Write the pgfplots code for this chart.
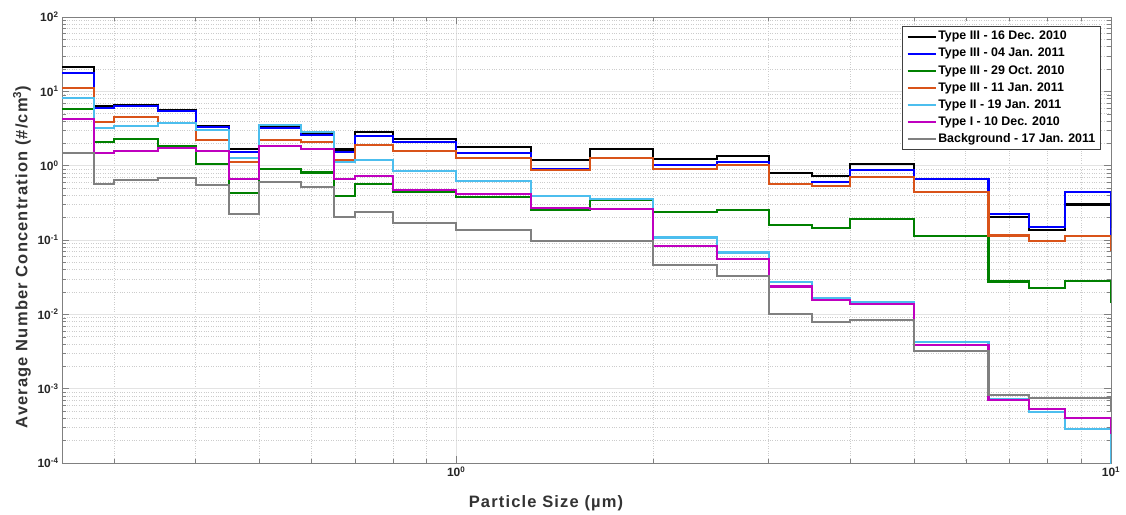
\documentclass[border=0pt]{standalone}
\usepackage{fontspec}
\setmainfont{Liberation Sans}
\newfontfamily\labelfont[LetterSpace=7]{Liberation Sans}
\usepackage{pgfplots}
\pgfplotsset{compat=1.18}
\usetikzlibrary{calc}

\definecolor{cBlack}{rgb}{0,0,0}
\definecolor{cBlue}{rgb}{0,0,1}
\definecolor{cGreen}{rgb}{0,0.5,0}
\definecolor{cOrange}{rgb}{0.85,0.325,0.098}
\definecolor{cCyan}{rgb}{0.30,0.745,0.933}
\definecolor{cMag}{rgb}{0.75,0,0.75}
\definecolor{cGray}{rgb}{0.5,0.5,0.5}
\definecolor{axgray}{rgb}{0.5,0.5,0.5}

\pgfplotsset{stair/.style={const plot, line width=2.1pt, mark=none, draw=#1, color=#1}}

\begin{document}
\begin{tikzpicture}
\begin{axis}[
  name=ax,
  scale only axis,
  width=1049pt, height=446pt,
  xmode=log, ymode=log,
  xmin=0.25, xmax=10, ymin=1e-4, ymax=1e2,
  xtick={1,10},
  xticklabels={10\textsuperscript{0},10\textsuperscript{1}},
  minor xtick={0.3,0.4,0.5,0.6,0.7,0.8,0.9,2,3,4,5,6,7,8,9},
  ytick={1e-4,1e-3,1e-2,1e-1,1,10,100},
  yticklabels={10\textsuperscript{-4},10\textsuperscript{-3},10\textsuperscript{-2},10\textsuperscript{-1},10\textsuperscript{0},10\textsuperscript{1},10\textsuperscript{2}},
  minor ytick={2e-4,3e-4,4e-4,5e-4,6e-4,7e-4,8e-4,9e-4,
    2e-3,3e-3,4e-3,5e-3,6e-3,7e-3,8e-3,9e-3,
    2e-2,3e-2,4e-2,5e-2,6e-2,7e-2,8e-2,9e-2,
    0.2,0.3,0.4,0.5,0.6,0.7,0.8,0.9,
    2,3,4,5,6,7,8,9,20,30,40,50,60,70,80,90},
  tick label style={font=\bfseries\fontsize{12}{13}\selectfont, color=black!85},
  grid=both,
  major grid style={solid, gray!22},
  minor grid style={dotted, gray!40, line width=0.5pt},
  tick align=inside,
  major tick length=7pt, minor tick length=4.5pt,
  axis line style={axgray, line width=0.8pt},
  every tick/.style={axgray},
  xlabel={Particle Size (µm)},
  ylabel={Average Number Concentration (\#/cm\textsuperscript{3})},
  label style={font=\labelfont\bfseries\fontsize{16.5}{20}\selectfont, color=black!80},
  xlabel style={at={(axis description cs:0.4614,-0.0897)}, anchor=center},
  ylabel style={at={(axis description cs:-0.0381,0.462)}, anchor=center},
  legend style={at={(axis description cs:1,1)}, xshift=-10pt, yshift=-9pt,
    anchor=north east, draw=black!75, fill=white, line width=0.6pt,
    font=\bfseries\fontsize{12.4}{14}\selectfont,
    nodes={inner sep=1.5pt, text height=9pt, text depth=2.5pt},
    row sep=2.6pt, inner xsep=4pt, inner ysep=3pt},
  legend cell align=left,
  legend image code/.code={\draw[#1] (0pt,0pt) -- (28pt,0pt);},
]
% bin edges: 0.25 .28 .30 .35 .40 .45 .50 .58 .65 .70 .80 1.0 1.3 1.6 2 2.5 3 3.5 4 5 6.5 7.5 8.5 10 12.5
\addplot[stair=cBlack] coordinates {(0.25,21) (0.28,6.3) (0.30,6.6) (0.35,5.6) (0.40,3.38) (0.45,1.69) (0.50,3.32) (0.58,2.67) (0.65,1.65) (0.70,2.81) (0.80,2.29) (1.0,1.77) (1.3,1.2) (1.6,1.69) (2.0,1.23) (2.5,1.36) (3.0,0.797) (3.5,0.733) (4.0,1.04) (5.0,0.665) (6.5,0.204) (7.5,0.138) (8.5,0.30) (10,0.15) (12.5,0.15)};
\addplot[stair=cBlue] coordinates {(0.25,17.7) (0.28,5.97) (0.30,6.42) (0.35,5.4) (0.40,3.28) (0.45,1.53) (0.50,3.22) (0.58,2.56) (0.65,1.53) (0.70,2.48) (0.80,2.08) (1.0,1.48) (1.3,0.90) (1.6,1.27) (2.0,1.02) (2.5,1.12) (3.0,0.573) (3.5,0.597) (4.0,0.88) (5.0,0.665) (6.5,0.224) (7.5,0.15) (8.5,0.437) (10,0.118) (12.5,0.118)};
\addplot[stair=cGreen] coordinates {(0.25,5.8) (0.28,2.06) (0.30,2.26) (0.35,1.82) (0.40,1.05) (0.45,0.429) (0.50,0.91) (0.58,0.81) (0.65,0.386) (0.70,0.567) (0.80,0.447) (1.0,0.375) (1.3,0.256) (1.6,0.345) (2.0,0.235) (2.5,0.256) (3.0,0.157) (3.5,0.145) (4.0,0.192) (5.0,0.112) (6.5,0.0277) (7.5,0.0226) (8.5,0.0283) (10,0.0149) (12.5,0.0149)};
\addplot[stair=cOrange] coordinates {(0.25,11.1) (0.28,3.91) (0.30,4.52) (0.35,3.7) (0.40,2.24) (0.45,1.11) (0.50,2.19) (0.58,2.08) (0.65,1.18) (0.70,1.92) (0.80,1.59) (1.0,1.27) (1.3,0.88) (1.6,1.27) (2.0,0.90) (2.5,1.01) (3.0,0.573) (3.5,0.527) (4.0,0.70) (5.0,0.437) (6.5,0.115) (7.5,0.0958) (8.5,0.112) (10,0.074) (12.5,0.074)};
\addplot[stair=cCyan] coordinates {(0.25,8.05) (0.28,3.21) (0.30,3.38) (0.35,3.75) (0.40,3.05) (0.45,1.28) (0.50,3.56) (0.58,2.84) (0.65,1.11) (0.70,1.2) (0.80,0.838) (1.0,0.628) (1.3,0.386) (1.6,0.36) (2.0,0.108) (2.5,0.068) (3.0,0.0269) (3.5,0.0166) (4.0,0.0146) (5.0,0.00428) (6.5,0.00073) (7.5,0.00049) (8.5,0.000286) (10,0.00005) (12.5,0.00005)};
\addplot[stair=cMag] coordinates {(0.25,4.25) (0.28,1.48) (0.30,1.56) (0.35,1.73) (0.40,1.56) (0.45,0.668) (0.50,1.82) (0.58,1.69) (0.65,0.66) (0.70,0.733) (0.80,0.475) (1.0,0.416) (1.3,0.267) (1.6,0.261) (2.0,0.0838) (2.5,0.056) (3.0,0.0237) (3.5,0.0154) (4.0,0.0139) (5.0,0.00386) (6.5,0.00071) (7.5,0.00053) (8.5,0.000402) (10,0.000255) (12.5,0.000255)};
\addplot[stair=cGray] coordinates {(0.25,1.48) (0.28,0.573) (0.30,0.648) (0.35,0.683) (0.40,0.543) (0.45,0.224) (0.50,0.603) (0.58,0.52) (0.65,0.203) (0.70,0.235) (0.80,0.169) (1.0,0.138) (1.3,0.096) (1.6,0.096) (2.0,0.0465) (2.5,0.0324) (3.0,0.0101) (3.5,0.00787) (4.0,0.00846) (5.0,0.00324) (6.5,0.00082) (7.5,0.00074) (8.5,0.00074) (10,0.00052) (12.5,0.00052)};
\legend{Type III - 16 Dec. 2010, Type III - 04 Jan. 2011, Type III - 29 Oct. 2010, Type III - 11 Jan. 2011, Type II - 19 Jan. 2011, Type I - 10 Dec. 2010, Background - 17 Jan. 2011}
\end{axis}
\pgfresetboundingbox
\path[use as bounding box] ($(ax.south west)+(-62pt,-51pt)$) rectangle ($(ax.north east)+(15pt,17pt)$);
\end{tikzpicture}
\end{document}
